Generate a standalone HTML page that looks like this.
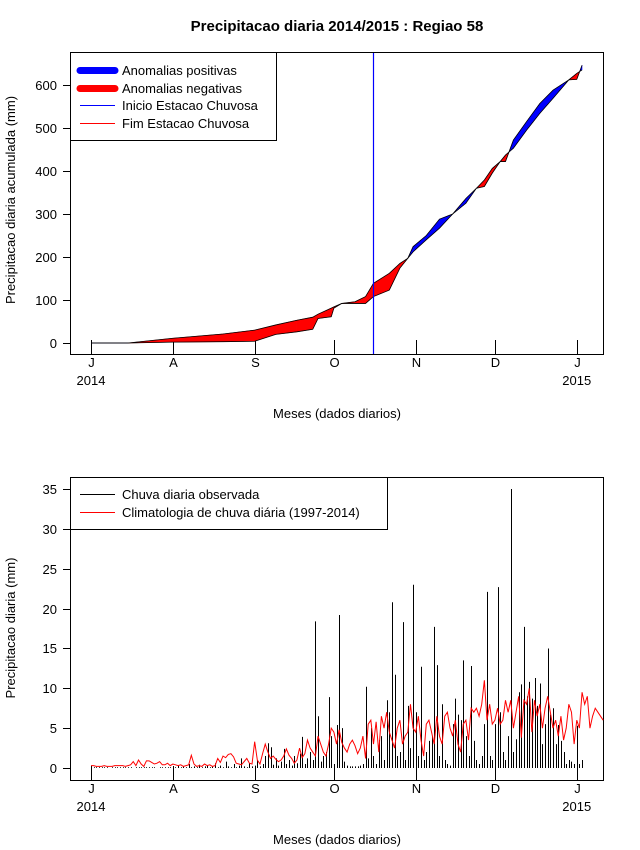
<!DOCTYPE html>
<html><head><meta charset="utf-8"><style>
body{margin:0;background:#fff;}
svg{display:block;font-family:"Liberation Sans",sans-serif;}
</style></head><body>
<svg id="c" width="640" height="850" viewBox="0 0 640 850" xmlns="http://www.w3.org/2000/svg">
<defs><clipPath id="clipb"><rect x="70" y="477" width="534" height="303"/></clipPath></defs>
<rect width="640" height="850" fill="#fff"/>
<text x="337" y="31" text-anchor="middle" font-size="15" font-weight="bold">Precipitacao diaria 2014/2015 : Regiao 58</text>
<text transform="translate(15,200) rotate(-90)" text-anchor="middle" font-size="13">Precipitacao diaria acumulada (mm)</text>
<text x="337" y="418" text-anchor="middle" font-size="13">Meses (dados diarios)</text>
<text transform="translate(15,628) rotate(-90)" text-anchor="middle" font-size="13">Precipitacao diaria (mm)</text>
<text x="337" y="844" text-anchor="middle" font-size="13">Meses (dados diarios)</text>
<g id="topPanel"></g>
<g id="botPanel"></g>
</svg>
<script>
const monthLabels=["J","A","S","O","N","D","J"];
const monthDays=[0,31,62,92,123,153,184];
const yearLabels=["2014","2015"];
const topTicks=[0,100,200,300,400,500,600];
const botTicks=[0,5,10,15,20,25,30,35];
const topDays=[0,14,31,50,62,70,78,84,86,91,92,95,100,104,107,113,117,120,122,127,132,137,142,146,149,152,155,157,160,165,170,175,181,184,186];
const obsCum=[0,0,2,3,4,20,26,32,57,61,81,92,92,92,108,123,174,197,224,250,288,300,336,360,364,395,422,422,472,515,557,588,612,613,646];
const climCum=[0,0,11,21,30,42,53,60,67,81,84,92,96,108,139,162,185,197,212,240,267,300,325,360,379,406,422,437,453,495,534,569,612,627,635];
const rainStartDay=107;
const obsDaily=[0,0.1,0.1,0.1,0.1,0.1,0.1,0,0.1,0.1,0.1,0.1,0.1,0.1,0.1,0.1,0,0.1,0.1,0.1,0.1,0.1,0.1,0.1,0.1,0,0.1,0.1,0.1,0.1,0.1,
0.2,0.1,0.3,0.1,0.2,0.1,0.5,0.1,0.2,0.1,0.4,0.1,0.2,0.3,0.1,0.2,0.6,0.1,0.3,0.1,0.8,0.2,0.1,0.5,0.1,0.3,1.2,0.2,0.1,0.6,0.2,
0.3,1.0,0.2,0.5,1.5,3.1,2.6,0.4,1.2,0.3,0.8,2.4,0.5,1.0,0.3,1.5,0.6,1.8,3.9,0.5,1.2,2.0,1.0,18.4,6.5,0.8,1.5,2.0,8.9,4.0,
0.5,5.4,19.2,5.0,0.8,0.3,0.2,0.2,0.2,0.2,0.3,0.5,10.2,1.2,5.0,1.5,0.5,3.5,4.0,1.0,8.5,7.0,20.8,11.7,1.5,2.0,18.3,1.0,7.8,2.5,23.0,
7.0,1.5,12.7,1.0,2.0,3.4,4.0,17.7,12.9,1.5,8.0,1.0,0.5,0.3,5.5,8.7,6.7,6.0,13.5,4.0,1.5,12.8,3.4,1.0,0.5,1.5,5.5,22.1,1.5,1.0,
5.5,22.7,7.0,2.0,1.0,4.0,35.0,2.0,3.6,9.5,10.5,17.7,9.0,10.8,8.7,11.3,7.8,10.6,3.0,5.5,15.0,6.7,7.5,3.0,5.4,3.4,2.0,0.5,1.0,0.8,0.5,
5.3,0.5,1.0];
const climDaily=[0.3,0.3,0.2,0.2,0.2,0.3,0.2,0.2,0.2,0.3,0.3,0.3,0.3,0.2,0.3,0.4,0.8,0.3,1.0,0.5,0.2,0.9,0.9,0.7,0.5,0.6,0.8,0.4,0.4,0.6,0.3,
0.5,0.4,0.3,0.4,0.2,0.3,0.4,1.6,0.5,0.2,0.3,0.2,0.5,0.3,0.4,0.2,0.3,1.2,0.7,1.5,1.3,1.7,1.8,1.4,0.6,0.5,0.4,0.8,1.2,0.6,0.5,
3.3,1.0,0.5,1.8,3.0,2.0,1.2,1.5,1.1,0.8,1.0,1.5,2.4,1.6,1.2,0.6,1.0,2.5,1.3,1.8,3.5,2.5,2.0,1.5,4.0,3.0,2.0,1.5,3.0,5.0,
4.5,3.0,4.8,3.2,2.5,2.0,3.0,3.5,2.8,1.8,2.5,4.0,1.2,5.5,6.0,3.0,5.8,2.0,6.5,5.0,7.0,4.5,3.5,2.5,5.0,6.0,3.0,4.0,4.5,8.0,5.0,
4.5,6.5,3.5,1.5,5.5,6.0,4.5,3.0,6.5,4.0,3.0,6.5,7.0,5.0,4.0,6.0,3.0,2.0,5.5,6.0,3.5,7.5,7.0,7.5,6.5,8.0,11.0,6.0,8.0,5.5,
6.0,7.5,5.5,6.0,8.5,7.0,8.5,5.0,7.0,9.0,3.8,8.5,8.0,10.0,4.5,8.5,6.5,8.0,5.0,7.5,9.0,7.0,5.0,6.0,4.0,6.5,3.5,5.0,8.0,7.0,3.0,
6.0,5.0,9.5,8.0,9.0,5.0,6.5,7.5,7.0,6.5,6.0];

const NS="http://www.w3.org/2000/svg";
function mk(parent,tag,attrs){const e=document.createElementNS(NS,tag);for(const k in attrs)e.setAttribute(k,attrs[k]);parent.appendChild(e);return e;}
const X=d=>91+d*2.64;
const Xc=d=>Math.round(X(d))+0.5;
const Yt=v=>343-v*0.43;
const Yb=v=>768-v*7.97;
const topG=document.getElementById('topPanel'), botG=document.getElementById('botPanel');

function frame(g,y0,y1,ticks,Y,name){
  let r=mk(g,'rect',{x:70.5,y:y0+0.5,width:533,height:y1-y0,fill:'none',stroke:'#000'});
  
  
  ticks.forEach(t=>{
    const y=Math.round(Y(t))+0.5;
    mk(g,'line',{x1:63,x2:70,y1:y,y2:y,stroke:'#000'});
    const tx=mk(g,'text',{x:57,y:y+4.5,'text-anchor':'end','font-size':13});
    tx.textContent=t;
    
    
  });
  monthDays.forEach((d,i)=>{
    const x=Xc(d);
    mk(g,'line',{x1:x,x2:x,y1:y1-14,y2:y1,stroke:'#000'});
    const tx=mk(g,'text',{x:x,y:y1+13,'text-anchor':'middle','font-size':13});
    tx.textContent=monthLabels[i];
    
    
  });
  [0,monthDays.length-1].forEach((i,k)=>{
    const tx=mk(g,'text',{x:X(monthDays[i]),y:y1+31,'text-anchor':'middle','font-size':13});
    tx.textContent=yearLabels[k];
    
    
  });
}
frame(topG,52,354,topTicks,Yt,'top');
frame(botG,477,780,botTicks,Yb,'bottom');

for(let i=0;i<topDays.length-1;i++){
  const d0=topDays[i],d1=topDays[i+1];
  const a0=obsCum[i]-climCum[i],a1=obsCum[i+1]-climCum[i+1];
  const segs=[];
  if(a0*a1<0){
    const t=a0/(a0-a1);const dm=d0+t*(d1-d0);const vm=obsCum[i]+t*(obsCum[i+1]-obsCum[i]);
    segs.push([d0,obsCum[i],climCum[i],dm,vm,vm,a0]);
    segs.push([dm,vm,vm,d1,obsCum[i+1],climCum[i+1],a1]);
  } else segs.push([d0,obsCum[i],climCum[i],d1,obsCum[i+1],climCum[i+1],a0+a1]);
  segs.forEach(s=>{
    const col=s[6]>=0?'#0000ff':'#ff0000';
    const p=mk(topG,'polygon',{points:`${X(s[0])},${Yt(s[1])} ${X(s[3])},${Yt(s[4])} ${X(s[3])},${Yt(s[5])} ${X(s[0])},${Yt(s[2])}`,fill:col,stroke:col,'stroke-width':0.5});
    
    
  });
}
let lo=mk(topG,'polyline',{points:topDays.map((d,i)=>X(d)+','+Yt(obsCum[i])).join(' '),fill:'none',stroke:'#000','stroke-width':0.8});


let lc=mk(topG,'polyline',{points:topDays.map((d,i)=>X(d)+','+Yt(climCum[i])).join(' '),fill:'none',stroke:'#000','stroke-width':0.8});


let vs=mk(topG,'line',{x1:Xc(rainStartDay),x2:Xc(rainStartDay),y1:53,y2:354,stroke:'#0000ff','stroke-width':1.2});



const lg=mk(topG,'g',{});


mk(lg,'rect',{x:70.5,y:52.5,width:206,height:88,fill:'#fff',stroke:'#000'});
const topLeg=[["Anomalias positivas","#0000ff",7],["Anomalias negativas","#ff0000",7],["Inicio Estacao Chuvosa","#0000ff",1],["Fim Estacao Chuvosa","#ff0000",1]];
topLeg.forEach((e,i)=>{
  const y=Math.round(70+i*17.5)+0.5;
  const ln=mk(lg,'line',{x1:80,x2:115,y1:y,y2:y,stroke:e[1],'stroke-width':e[2],'stroke-linecap':e[2]>1?'round':'butt'});
  
  
  const t=mk(lg,'text',{x:122,y:y+4.5,'font-size':13});t.textContent=e[0];
  
  
});

obsDaily.forEach((v,d)=>{
  const b=mk(botG,'line',{x1:Xc(d),x2:Xc(d),y1:Yb(0),y2:Yb(v),stroke:'#000','stroke-width':1});
  
  
});
const cl=mk(botG,'polyline',{points:climDaily.map((v,d)=>X(d)+','+Yb(v)).join(' '),fill:'none',stroke:'#ff0000','stroke-width':1,'clip-path':'url(#clipb)'});


const bl=mk(botG,'g',{});


mk(bl,'rect',{x:70.5,y:477.5,width:317,height:52,fill:'#fff',stroke:'#000'});
const botLeg=[["Chuva diaria observada","#000"],["Climatologia de chuva diária (1997-2014)","#ff0000"]];
botLeg.forEach((e,i)=>{
  const y=494.5+i*18;
  const ln=mk(bl,'line',{x1:80,x2:115,y1:y,y2:y,stroke:e[1]});
  
  
  const t=mk(bl,'text',{x:122,y:y+4.5,'font-size':13});t.textContent=e[0];
  
  
});
</script>
</body></html>
